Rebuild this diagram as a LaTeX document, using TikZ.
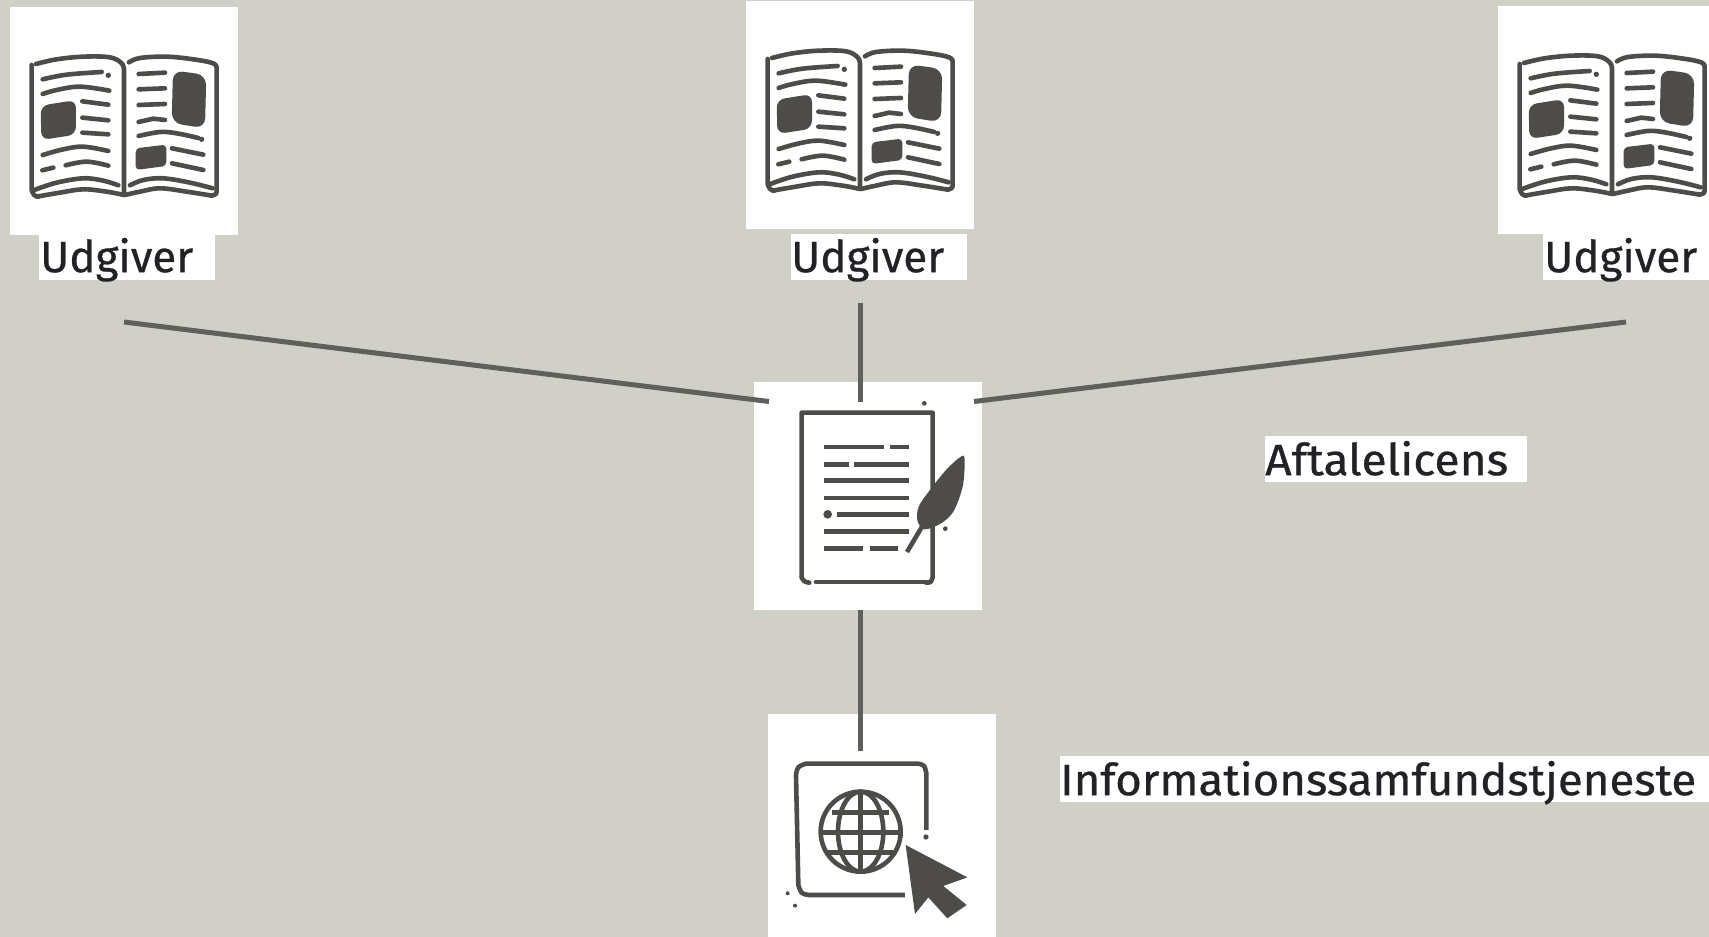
\documentclass[tikz,border=0pt]{standalone}
\usepackage{fontspec}
\usepackage{graphicx}
\setmainfont{Fira Sans}[FakeBold=0.6]
\definecolor{bgc}{HTML}{D0D0C8}
\definecolor{ink}{HTML}{4D4C48}
\definecolor{linkc}{HTML}{5F5F5C}
\definecolor{txt}{HTML}{212226}
\newcommand{\fitw}[2]{\resizebox{#1pt}{\height}{\fontsize{44}{50}\selectfont #2}}
\tikzset{
  iconbox/.style={rectangle,fill=white,inner sep=0pt,anchor=north west,minimum width=228pt,minimum height=228pt},
  lab/.style={rectangle,fill=white,inner sep=0pt,anchor=north west,text=txt,align=left},
  link/.style={draw=linkc,line width=5pt},
  ik/.style={draw=ink,line width=4.6pt,line cap=round,line join=round}
}
\newcommand{\sm}[1]{plot[smooth,tension=0.6] coordinates {#1}}
\newcommand{\bookicon}[2]{%
\begin{scope}[shift={(#1,#2)},x=0.3333pt,y=-0.3333pt]
 \draw[ik] (95,195) -- (95,570) \sm{(95,570)(102,585)(115,590)};
 \draw[ik] \sm{(108,192)(170,178)(250,170)(330,172)(365,190)(372,210)} -- (372,580);
 \draw[ik] \sm{(110,590)(180,578)(250,568)(320,575)(372,585)};
 \draw[ik] \sm{(103,570)(170,548)(250,535)(310,542)(355,556)};
 \draw[ik] \sm{(387,187)(420,174)(500,170)(580,178)(640,190)(650,205)} -- (650,570) \sm{(650,570)(648,582)(635,587)};
 \draw[ik] \sm{(635,587)(560,575)(480,565)(420,575)(375,585)};
 \draw[ik] \sm{(390,556)(430,540)(490,535)(570,548)(638,565)};
 \draw[ik] \sm{(128,238)(200,224)(305,216)};
 \fill[ink] (325,226) circle (8);
 \draw[ik] \sm{(128,282)(170,270)(240,260)(328,272)};
 \fill[ink,rounded corners=8] (122,317) -- (228,300) -- (228,404) -- (124,420) -- cycle;
 \draw[ik] (247,304) -- (325,314);
 \draw[ik] (247,353) -- (325,361);
 \draw[ik] (247,398) -- (325,403);
 \draw[ik] \sm{(128,465)(190,448)(250,440)(325,453)};
 \draw[ik] (127,511) -- (160,503);
 \draw[ik] \sm{(197,496)(260,485)(325,497)};
 \draw[ik] (416,222) -- (495,218);
 \draw[ik] (416,268) -- (495,265);
 \draw[ik] (416,315) -- (495,312);
 \draw[ik] (416,366) -- (460,356) -- (495,360);
 \draw[ik] \sm{(416,408)(480,396)(530,400)(595,414)};
 \fill[ink] (605,418) circle (8);
 \fill[ink,rounded corners=10] (519,211) -- (619,225) -- (615,385) -- (515,369) -- cycle;
 \fill[ink,rounded corners=4] (407,445) -- (499,434) -- (499,498) -- (407,510) -- cycle;
 \draw[ik] (516,445) -- (610,464);
 \draw[ik] (516,490) -- (610,510);
\end{scope}}
\newcommand{\docicon}{%
\begin{scope}[shift={(740,370)},x=0.3333pt,y=-0.3333pt]
 \draw[ik] (185,622) -- (185,128) -- (578,128) -- (578,622) \sm{(578,622)(572,636)(558,638)};
 \draw[ik] \sm{(185,622)(193,634)(208,638)};
 \draw[ik] (228,636) -- (558,636);
 \foreach \a/\b/\c in {231/254/430,231/453/503,284/254/323,284/345/503,331/254/503,384/254/503,433/293/503,485/254/503,536/254/366,536/393/471}
   \draw[ik,line cap=butt] (\b-3,\a) -- (\c+3,\a);
 \fill[ink] (263,433) circle (13);
 \fill[ink] (553,100) circle (7);
 \fill[ink] (616,476) circle (7);
 \fill[ink] plot[smooth cycle,tension=0.55] coordinates {(666,258) (674,275) (668,350) (640,425) (600,462) (552,478) (532,450) (537,408) (570,360) (620,298)};
 \draw[ik,line cap=butt] (545,472) -- (501,546);
\end{scope}}
\newcommand{\webicon}{%
\begin{scope}[shift={(750,700)},x=0.3333pt,y=-0.3333pt]
 \draw[ik,line cap=butt] (465,585) -- (175,585) \sm{(175,585)(155,578)(145,555)} -- (138,225) \sm{(138,225)(145,202)(168,191)} -- (505,191) \sm{(505,191)(522,198)(529,220)} -- (529,390);
 \fill[ink] (528,411) circle (8);
 \draw[ik] (332,395) circle [x radius=120,y radius=120];
 \draw[ik] (332,395) circle [x radius=68,y radius=120];
 \draw[ik,line cap=butt] (332,275) -- (332,515);
 \draw[ik,line cap=butt] (245,337) -- (417,337);
 \draw[ik,line cap=butt] (212,397) -- (452,397);
 \draw[ik,line cap=butt] (235,457) -- (428,457);
 \fill[ink] (467,435) -- (652,532) -- (580,558) -- (650,615) -- (592,655) -- (535,592) -- (495,642) -- cycle;
 \fill[ink] (113,580) circle (6);
 \fill[ink] (135,617) circle (6);
\end{scope}}
\begin{document}
\begin{tikzpicture}[x=1pt,y=-1pt]
\useasboundingbox (0,0) rectangle (1709,937);
\clip (0,0) rectangle (1709,937);
\fill[bgc] (0,0) rectangle (1709,937);
\node[iconbox] (book1) at (10,7) {};
\node[iconbox] (book2) at (746,1) {};
\node[iconbox] (book3) at (1498,6) {};
\node[iconbox] (doc) at (754,382) {};
\node[iconbox] (web) at (768,714) {};
\bookicon{0}{0}
\bookicon{736}{-6}
\bookicon{1488}{-1}
\docicon
\webicon
\node[lab,text width=176pt,text height=37pt,text depth=8pt] (lab1) at (39,235) {\hspace*{1pt}\fitw{153}{Udgiver}};
\node[lab,text width=176pt,text height=38pt,text depth=8pt] (lab2) at (791,234) {\hspace*{0pt}\fitw{153}{Udgiver}};
\node[lab,text width=166pt,text height=38pt,text depth=8pt] (lab3) at (1543,234) {\hspace*{1pt}\fitw{153}{Udgiver}};
\node[lab,text width=262pt,text height=39pt,text depth=7pt] (lab4) at (1265,436) {\hspace*{0pt}\fitw{243}{Aftalelicens}};
\node[lab,text width=649pt,text height=39pt,text depth=7pt] (lab5) at (1060,756) {\hspace*{0pt}\fitw{636}{Informationssamfundstjeneste}};
\coordinate (aL) at (124,322);
\coordinate (aR) at (1626,322);
\coordinate (aM) at (860,303);
\coordinate (bL) at (769,401.5);
\coordinate (bR) at (974,401.5);
\coordinate (bM) at (860,402);
\coordinate (cT) at (860,610);
\coordinate (cB) at (860,751);
\draw[link] (aL) -- (bL);
\draw[link] (aR) -- (bR);
\draw[link] (aM) -- (bM);
\draw[link] (cT) -- (cB);
\end{tikzpicture}
\end{document}
